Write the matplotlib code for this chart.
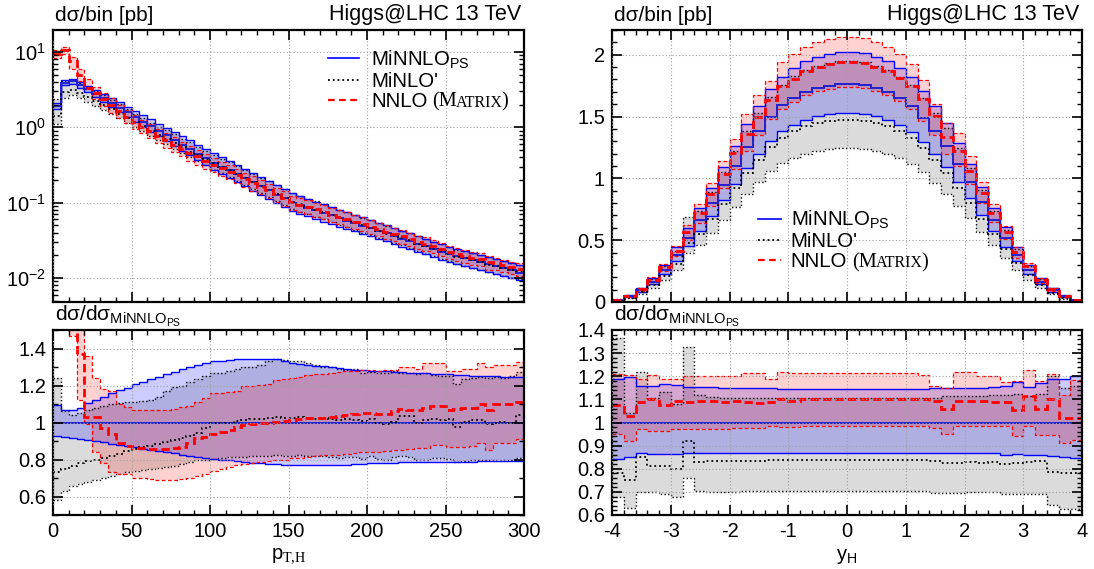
import numpy as np
import matplotlib
matplotlib.use('Agg')
import matplotlib.pyplot as plt
from matplotlib.ticker import MultipleLocator, FormatStrFormatter, LogLocator, NullFormatter

plt.rcParams['font.family'] = ['Liberation Sans', 'DejaVu Sans']
plt.rcParams['mathtext.fontset'] = 'custom'
plt.rcParams['mathtext.rm'] = 'Liberation Serif'
plt.rcParams['axes.unicode_minus'] = False
plt.rcParams['font.size'] = 14

# ---------------- pT,H (5 GeV bins) ----------------
pt_edges = np.arange(0, 301, 5)

# MiNNLO_PS central [pb/bin]
minnlo_pt = [1.90, 3.90, 4.05, 3.65, 3.20, 2.78, 2.42, 2.10, 1.82, 1.57,
             1.36, 1.185, 1.03, 0.897, 0.78, 0.68, 0.59, 0.515, 0.448, 0.39,
             0.340, 0.301, 0.267, 0.236, 0.209, 0.185, 0.164, 0.145, 0.128, 0.114,
             0.100, 0.0925, 0.0855, 0.079, 0.073, 0.0675, 0.0625, 0.0578, 0.0535, 0.0495,
             0.0458, 0.0423, 0.039, 0.036, 0.0332, 0.0307, 0.0283, 0.0262, 0.0241, 0.0223,
             0.0206, 0.0194, 0.0182, 0.0171, 0.0161, 0.0151, 0.0142, 0.0134, 0.0126, 0.0118]
# scale band of MiNNLO_PS, as ratio to its central value
minnlo_pt_hi = [1.094, 1.069, 1.069, 1.08, 1.104, 1.12, 1.14, 1.158, 1.176, 1.189,
                1.207, 1.22, 1.234, 1.247, 1.262, 1.274, 1.287, 1.298, 1.309, 1.32,
                1.33, 1.334, 1.34, 1.343, 1.345, 1.345, 1.345, 1.345, 1.342, 1.334,
                1.324, 1.318, 1.313, 1.308, 1.303, 1.298, 1.294, 1.29, 1.286, 1.283,
                1.28, 1.278, 1.276, 1.274, 1.272, 1.27, 1.268, 1.266, 1.264, 1.262,
                1.26, 1.258, 1.256, 1.254, 1.252, 1.25, 1.249, 1.248, 1.246, 1.245]
minnlo_pt_lo = [0.925, 0.92, 0.915, 0.91, 0.905, 0.90, 0.893, 0.886, 0.879, 0.872,
                0.865, 0.858, 0.851, 0.845, 0.839, 0.833, 0.827, 0.821, 0.815, 0.81,
                0.805, 0.80, 0.795, 0.79, 0.786, 0.782, 0.779, 0.776, 0.774, 0.772,
                0.77, 0.769, 0.768, 0.768, 0.768, 0.769, 0.77, 0.772, 0.774, 0.777,
                0.78, 0.781, 0.782, 0.783, 0.784, 0.785, 0.786, 0.786, 0.787, 0.787,
                0.788, 0.788, 0.789, 0.789, 0.79, 0.79, 0.791, 0.791, 0.792, 0.792]
# MiNLO' ratio to MiNNLO_PS
minlo_pt = [0.735, 0.75, 0.765, 0.78, 0.79, 0.80, 0.81, 0.82, 0.83, 0.845,
            0.855, 0.865, 0.875, 0.885, 0.895, 0.905, 0.915, 0.925, 0.945, 0.97,
            0.995, 1.0, 1.0, 1.01, 1.015, 1.02, 1.02, 1.025, 1.03, 1.025,
            1.025, 1.03, 1.025, 1.02, 1.025, 1.02, 1.015, 1.02, 1.015, 1.01,
            1.02, 0.995, 0.99, 1.005, 1.035, 1.035, 1.0, 1.015, 1.02, 1.015,
            1.02, 0.975, 1.005, 1.015, 1.015, 0.99, 1.0, 1.005, 1.0, 1.04]
minlo_pt_hi = [1.24, 1.06, 1.04, 1.05, 1.07, 1.08, 1.09, 1.10, 1.105, 1.11,
               1.11, 1.115, 1.12, 1.14, 1.17, 1.19, 1.20, 1.22, 1.235, 1.25,
               1.265, 1.27, 1.28, 1.29, 1.30, 1.30, 1.31, 1.335, 1.345, 1.34,
               1.33, 1.33, 1.32, 1.31, 1.30, 1.30, 1.29, 1.285, 1.29, 1.27,
               1.275, 1.27, 1.265, 1.28, 1.27, 1.27, 1.26, 1.265, 1.255, 1.25,
               1.25, 1.21, 1.235, 1.24, 1.245, 1.24, 1.245, 1.24, 1.25, 1.275]
minlo_pt_lo = [0.58, 0.63, 0.655, 0.67, 0.68, 0.69, 0.70, 0.71, 0.72, 0.73,
               0.74, 0.745, 0.75, 0.755, 0.76, 0.765, 0.775, 0.785, 0.795, 0.80,
               0.805, 0.81, 0.812, 0.815, 0.815, 0.82, 0.818, 0.82, 0.822, 0.82,
               0.82, 0.822, 0.82, 0.818, 0.82, 0.815, 0.81, 0.815, 0.812, 0.805,
               0.82, 0.805, 0.80, 0.815, 0.82, 0.815, 0.80, 0.80, 0.81, 0.81,
               0.805, 0.785, 0.79, 0.80, 0.80, 0.795, 0.80, 0.795, 0.80, 0.81]
# NNLO (MATRIX) ratio to MiNNLO_PS
nnlo_pt = [5.0, 2.7, 1.85, 1.37, 1.03, 1.03, 0.97, 0.94, 0.89, 0.875,
           0.862, 0.86, 0.856, 0.855, 0.855, 0.86, 0.87, 0.89, 0.915, 0.92,
           0.94, 0.95, 0.96, 0.975, 0.985, 0.99, 0.995, 1.0, 1.005, 1.01,
           1.015, 1.02, 1.025, 1.027, 1.027, 1.03, 1.035, 1.04, 1.045, 1.05,
           1.05, 1.045, 1.045, 1.06, 1.073, 1.065, 1.07, 1.08, 1.09, 1.09,
           1.07, 1.075, 1.08, 1.08, 1.10, 1.07, 1.10, 1.10, 1.10, 1.11]
nnlo_pt_hi = [5.6, 3.0, 2.1, 1.62, 1.36, 1.24, 1.18, 1.17, 1.10, 1.085,
              1.07, 1.067, 1.067, 1.067, 1.07, 1.075, 1.085, 1.09, 1.11, 1.13,
              1.16, 1.16, 1.165, 1.17, 1.197, 1.20, 1.205, 1.21, 1.23, 1.235,
              1.24, 1.245, 1.255, 1.26, 1.26, 1.265, 1.275, 1.28, 1.28, 1.285,
              1.285, 1.28, 1.285, 1.285, 1.30, 1.30, 1.29, 1.32, 1.32, 1.32,
              1.28, 1.28, 1.29, 1.29, 1.32, 1.30, 1.31, 1.31, 1.31, 1.325]
nnlo_pt_lo = [4.4, 2.4, 1.47, 1.12, 0.99, 0.84, 0.78, 0.735, 0.72, 0.72,
              0.70, 0.70, 0.695, 0.69, 0.69, 0.69, 0.695, 0.70, 0.71, 0.72,
              0.74, 0.75, 0.76, 0.77, 0.775, 0.78, 0.785, 0.79, 0.795, 0.80,
              0.808, 0.81, 0.815, 0.82, 0.825, 0.825, 0.825, 0.83, 0.835, 0.84,
              0.84, 0.842, 0.845, 0.85, 0.85, 0.855, 0.86, 0.86, 0.88, 0.88,
              0.87, 0.87, 0.87, 0.875, 0.89, 0.85, 0.89, 0.89, 0.89, 0.91]

# ---------------- y_H (0.2 bins) ----------------
y_edges = np.linspace(-4, 4, 41)

minnlo_y = [0.015, 0.045, 0.095, 0.165, 0.26, 0.38, 0.52, 0.66, 0.80, 0.95,
            1.10, 1.25, 1.38, 1.50, 1.59, 1.65, 1.70, 1.73, 1.75, 1.765,
            1.765, 1.755, 1.73, 1.70, 1.65, 1.585, 1.49, 1.38, 1.26, 1.12,
            0.97, 0.81, 0.66, 0.52, 0.38, 0.26, 0.165, 0.095, 0.045, 0.015]
minnlo_y_hi = [1.187, 1.197, 1.16, 1.16, 1.165, 1.162, 1.155, 1.153, 1.152, 1.15,
               1.15, 1.149, 1.148, 1.148, 1.147, 1.147, 1.147, 1.146, 1.146, 1.146,
               1.146, 1.146, 1.146, 1.147, 1.147, 1.147, 1.147, 1.148, 1.149, 1.15,
               1.15, 1.15, 1.155, 1.16, 1.175, 1.155, 1.17, 1.19, 1.19, 1.2]
minnlo_y_lo = [0.844, 0.85, 0.866, 0.863, 0.863, 0.864, 0.868, 0.868, 0.868, 0.868,
               0.868, 0.868, 0.868, 0.868, 0.868, 0.868, 0.868, 0.868, 0.868, 0.868,
               0.868, 0.868, 0.868, 0.868, 0.868, 0.868, 0.868, 0.868, 0.868, 0.866,
               0.866, 0.866, 0.866, 0.86, 0.863, 0.86, 0.858, 0.855, 0.85, 0.845]
minlo_y = [0.78, 0.75, 0.85, 0.81, 0.81, 0.80, 0.92, 0.83, 0.835, 0.834,
           0.835, 0.835, 0.835, 0.836, 0.836, 0.837, 0.837, 0.836, 0.836, 0.836,
           0.836, 0.836, 0.836, 0.836, 0.836, 0.836, 0.836, 0.834, 0.826, 0.826,
           0.828, 0.826, 0.828, 0.82, 0.825, 0.83, 0.835, 0.785, 0.78, 0.78]
minlo_y_hi = [1.366, 1.04, 1.218, 1.107, 1.13, 1.082, 1.327, 1.121, 1.11, 1.108,
              1.108, 1.108, 1.107, 1.107, 1.106, 1.106, 1.105, 1.105, 1.105, 1.105,
              1.105, 1.105, 1.105, 1.105, 1.105, 1.105, 1.105, 1.107, 1.115, 1.115,
              1.115, 1.115, 1.12, 1.12, 1.123, 1.115, 1.123, 1.2, 1.15, 1.16]
minlo_y_lo = [0.68, 0.63, 0.70, 0.70, 0.69, 0.68, 0.76, 0.702, 0.70, 0.70,
              0.70, 0.702, 0.703, 0.704, 0.705, 0.705, 0.705, 0.705, 0.705, 0.705,
              0.705, 0.705, 0.705, 0.705, 0.705, 0.705, 0.705, 0.695, 0.695, 0.695,
              0.70, 0.70, 0.70, 0.69, 0.69, 0.692, 0.692, 0.645, 0.625, 0.625]
nnlo_y = [1.077, 1.03, 1.09, 1.10, 1.077, 1.095, 1.09, 1.095, 1.092, 1.09,
          1.095, 1.09, 1.085, 1.09, 1.10, 1.095, 1.10, 1.10, 1.10, 1.10,
          1.10, 1.10, 1.10, 1.10, 1.10, 1.10, 1.10, 1.092, 1.06, 1.092,
          1.092, 1.092, 1.088, 1.088, 1.055, 1.115, 1.06, 1.10, 1.02, 1.02]
nnlo_y_hi = [1.209, 1.205, 1.19, 1.205, 1.186, 1.186, 1.20, 1.20, 1.20, 1.20,
             1.20, 1.215, 1.215, 1.19, 1.22, 1.215, 1.215, 1.215, 1.215, 1.215,
             1.215, 1.215, 1.215, 1.215, 1.215, 1.212, 1.205, 1.16, 1.15, 1.22,
             1.22, 1.20, 1.20, 1.175, 1.178, 1.225, 1.178, 1.21, 1.12, 1.185]
nnlo_y_lo = [0.95, 0.921, 0.97, 0.965, 0.962, 0.97, 0.97, 0.97, 0.97, 0.972,
             0.975, 0.975, 0.978, 0.985, 0.98, 0.98, 0.985, 0.985, 0.985, 0.985,
             0.985, 0.985, 0.985, 0.985, 0.985, 0.985, 0.985, 0.978, 0.95, 0.985,
             0.985, 0.985, 0.985, 0.985, 0.94, 0.985, 0.945, 0.945, 0.91, 0.925]

BLUE = '#0000ff'
RED = '#ff0000'


def draw_set(ax, edges, norm, c1, c1lo, c1hi, c2, c2lo, c2hi, c3, c3lo, c3hi):
    n = np.asarray(norm)
    # fills: MiNLO' (grey), MiNNLO (blue), NNLO (red)
    ax.stairs(np.asarray(c2hi) * n, edges, baseline=np.asarray(c2lo) * n,
              fill=True, color='#d3d3d3', alpha=0.8, lw=0)
    ax.stairs(np.asarray(c1hi) * n, edges, baseline=np.asarray(c1lo) * n,
              fill=True, color=BLUE, alpha=0.2, lw=0)
    ax.stairs(np.asarray(c3hi) * n, edges, baseline=np.asarray(c3lo) * n,
              fill=True, color=RED, alpha=0.18, lw=0)
    for arr in (c2lo, c2hi):
        ax.stairs(np.asarray(arr) * n, edges, baseline=None, color='black', ls=':', lw=1.0)
    for arr in (c1lo, c1hi):
        ax.stairs(np.asarray(arr) * n, edges, baseline=None, color=BLUE, lw=1.0)
    for arr in (c3lo, c3hi):
        ax.stairs(np.asarray(arr) * n, edges, baseline=None, color=RED, ls=(0, (3, 2)), lw=0.9)
    ax.stairs(np.asarray(c1) * n, edges, baseline=None, color='#2020d0', lw=1.4)
    ax.stairs(np.asarray(c2) * n, edges, baseline=None, color='black', ls=':', lw=1.3)
    ax.stairs(np.asarray(c3) * n, edges, baseline=None, color=RED, ls=(0, (3, 1.5)), lw=2.0)


def style(ax):
    ax.tick_params(which='both', direction='in', top=True, right=True, labelsize=14.5)
    ax.tick_params(which='major', length=7, width=1.2, pad=5)
    ax.tick_params(which='minor', length=3.5, width=1.0)
    for s in ax.spines.values():
        s.set_linewidth(1.6)
    ax.grid(True, which='major', ls=(0, (1, 2)), color='#a0a0a0', lw=0.8)
    ax.set_axisbelow(False)


W, H = 1094, 569
fig = plt.figure(figsize=(W / 100, H / 100), dpi=100)


def add_ax(x0, y0, x1, y1):
    return fig.add_axes([x0 / W, 1 - y1 / H, (x1 - x0) / W, (y1 - y0) / H])


axL = add_ax(53, 30, 524, 302)
axLr = add_ax(53, 330, 524, 515)
axR = add_ax(612, 30, 1082, 302)
axRr = add_ax(612, 330, 1082, 515)

one_pt = np.asarray(minnlo_pt) / np.asarray(minnlo_pt)
one_y = np.asarray(minnlo_y) / np.asarray(minnlo_y)

# main panels
draw_set(axL, pt_edges, minnlo_pt, one_pt, minnlo_pt_lo, minnlo_pt_hi,
         minlo_pt, minlo_pt_lo, minlo_pt_hi, nnlo_pt, nnlo_pt_lo, nnlo_pt_hi)
draw_set(axR, y_edges, minnlo_y, one_y, minnlo_y_lo, minnlo_y_hi,
         minlo_y, minlo_y_lo, minlo_y_hi, nnlo_y, nnlo_y_lo, nnlo_y_hi)
# ratio panels
draw_set(axLr, pt_edges, one_pt, one_pt, minnlo_pt_lo, minnlo_pt_hi,
         minlo_pt, minlo_pt_lo, minlo_pt_hi, nnlo_pt, nnlo_pt_lo, nnlo_pt_hi)
draw_set(axRr, y_edges, one_y, one_y, minnlo_y_lo, minnlo_y_hi,
         minlo_y, minlo_y_lo, minlo_y_hi, nnlo_y, nnlo_y_lo, nnlo_y_hi)

# axes ranges / ticks
axL.set_yscale('log')
axL.set_ylim(0.0048, 19.5)
axL.yaxis.set_major_locator(LogLocator(base=10, numticks=10))
axL.yaxis.set_minor_locator(LogLocator(base=10, subs=np.arange(2, 10), numticks=20))
axL.yaxis.set_minor_formatter(NullFormatter())
for a in (axL, axLr):
    a.set_xlim(0, 300)
    a.xaxis.set_major_locator(MultipleLocator(50))
    a.xaxis.set_minor_locator(MultipleLocator(10))
axL.tick_params(labelbottom=False)
axLr.set_ylim(0.5, 1.5)
axLr.yaxis.set_minor_locator(MultipleLocator(0.1))
axLr.yaxis.set_major_formatter(FormatStrFormatter('%g'))
axLr.set_yticks([0.6, 0.8, 1.0, 1.2, 1.4])

for a in (axR, axRr):
    a.set_xlim(-4, 4)
    a.xaxis.set_major_locator(MultipleLocator(1))
    a.xaxis.set_minor_locator(MultipleLocator(0.2))
axR.tick_params(labelbottom=False)
axR.set_ylim(0, 2.2)
axR.yaxis.set_major_locator(MultipleLocator(0.5))
axR.yaxis.set_minor_locator(MultipleLocator(0.1))
axR.yaxis.set_major_formatter(FormatStrFormatter('%g'))
axRr.set_ylim(0.6, 1.4)
axRr.yaxis.set_major_locator(MultipleLocator(0.1))
axRr.yaxis.set_minor_locator(MultipleLocator(0.02))
axRr.yaxis.set_major_formatter(FormatStrFormatter('%g'))

for a in (axL, axLr, axR, axRr):
    style(a)

axLr.set_xlabel(r'p$_{\mathrm{T{,}H}}$', fontsize=14.5, labelpad=4)
axRr.set_xlabel(r'y$_{\mathregular{H}}$', fontsize=14.5, labelpad=4)

for a in (axL, axR):
    a.text(0.004, 1.02, 'd\u03c3/bin [pb]', transform=a.transAxes, fontsize=15, ha='left', va='bottom')
    a.text(0.995, 1.02, 'Higgs@LHC 13 TeV', transform=a.transAxes, fontsize=15.5, ha='right', va='bottom')
for a in (axLr, axRr):
    a.text(0.004, 1.005, 'd\u03c3/d\u03c3' + r'$_{\mathregular{MiNNLO}_{\mathregular{PS}}}$',
           transform=a.transAxes, fontsize=15, ha='left', va='bottom')

# legends
labels = [r'MiNNLO$_{\mathregular{PS}}$', "MiNLO'", 'NNLO']
legs = []
for a, anchor, hl, hp in ((axL, (0.584, 0.932), 1.5, 0.6), (axR, (0.311, 0.343), 1.1, 0.5)):
    h1, = a.plot([], [], color=BLUE, lw=1.2)
    h2, = a.plot([], [], color='black', ls=':', lw=1.3)
    h3, = a.plot([], [], color=RED, ls=(0, (3, 2)), lw=1.6)
    lg = a.legend([h1, h2, h3], labels, loc='upper left', bbox_to_anchor=anchor,
                  frameon=False, fontsize=14.7, handlelength=hl, handletextpad=hp,
                  labelspacing=0.05, borderpad=0, borderaxespad=0)
    legs.append(lg)

fig.canvas.draw()
renderer = fig.canvas.get_renderer()
for lg in legs:
    t = lg.get_texts()[2]
    bb = t.get_window_extent(renderer)
    xb, yb = t.get_transform().transform(t.get_position())
    x = bb.x1 + 5
    for piece, size in (('(M', 14.7), ('ATRIX', 11.5), (')', 14.7)):
        fx, fy = fig.transFigure.inverted().transform((x, yb))
        tp = fig.text(fx, fy, piece, fontsize=size, family='Liberation Serif',
                      ha='left', va='baseline')
        x += tp.get_window_extent(renderer).width - 1.5

fig.savefig('out.png', dpi=100)
